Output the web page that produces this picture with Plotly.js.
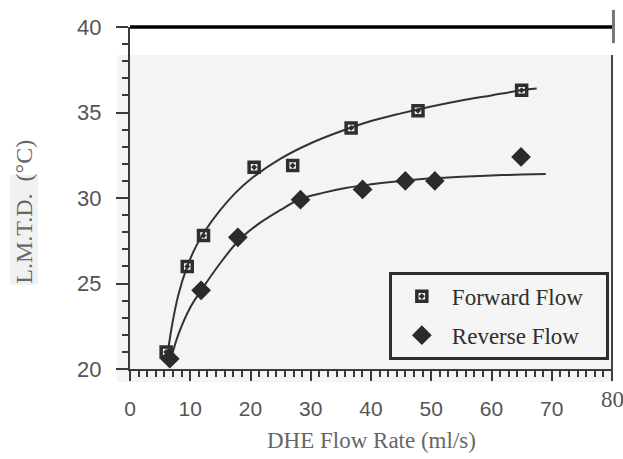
<!DOCTYPE html>
<html>
<head>
<meta charset="utf-8">
<script src="https://cdn.plot.ly/plotly-3.0.1.min.js"></script>
<style>
  html, body { margin: 0; padding: 0; background: #fff; }
  #chart { width: 623px; height: 459px; }
</style>
</head>
<body>
<div id="chart"></div>
<script>
// Measured points: DHE flow rate (ml/s) vs L.M.T.D. (°C)
const forwardX = [6, 9.5, 12.2, 20.6, 27, 36.7, 47.8, 65];
const forwardY = [21.0, 26.0, 27.8, 31.8, 31.9, 34.1, 35.1, 36.3];
const reverseX = [6.6, 11.8, 17.9, 28.3, 38.6, 45.7, 50.6, 64.9];
const reverseY = [20.6, 24.6, 27.7, 29.9, 30.5, 31.0, 31.0, 32.4];

// Fitted trend curves through each series
const forwardFitX = [6.2, 7, 8, 9.5, 11, 12.5, 15, 17.5, 20, 25, 30, 35, 40, 45, 50, 55, 60, 65, 67.5];
const forwardFitY = [20.8, 22.6, 24.3, 26.0, 27.2, 28.1, 29.3, 30.3, 31.1, 32.3, 33.2, 33.9, 34.5, 34.95, 35.35, 35.7, 36.0, 36.3, 36.4];
const reverseFitX = [6.8, 8, 10, 12, 15, 18, 21, 25, 28, 32, 36, 40, 45, 50, 55, 60, 65, 69];
const reverseFitY = [20.6, 22.0, 23.6, 24.7, 26.2, 27.5, 28.4, 29.3, 29.9, 30.3, 30.6, 30.8, 31.0, 31.15, 31.25, 31.32, 31.37, 31.4];

const xTickVals = [0, 10, 20, 30, 40, 50, 60, 70, 80];
const xTickText = ['0', '10', '20', '30', '40', '50', '60', '70', ''];
const yTickVals = [20, 25, 30, 35, 40];

const ink = '#333';
const serif = 'Liberation Serif, Times New Roman, serif';
const sans = 'Liberation Sans, Arial, sans-serif';
const pad = '\u00a0\u00a0\u00a0';

const traces = [
  { x: forwardFitX, y: forwardFitY, mode: 'lines', line: { color: ink, width: 2, shape: 'spline' },
    showlegend: false, hoverinfo: 'skip' },
  { x: reverseFitX, y: reverseFitY, mode: 'lines', line: { color: ink, width: 2, shape: 'spline' },
    showlegend: false, hoverinfo: 'skip' },
  { x: forwardX, y: forwardY, mode: 'markers', name: 'Forward Flow' + pad, legendgroup: 'f',
    marker: { symbol: 'square-open-dot', size: 10, color: '#2e2e2e', line: { width: 3.5, color: '#2e2e2e' } } },
  { x: reverseX, y: reverseY, mode: 'markers', name: 'Reverse Flow' + pad, legendgroup: 'r',
    marker: { symbol: 'diamond', size: 13, color: '#2b2b2b', line: { width: 2, color: '#2b2b2b' } } }
];

const layout = {
  width: 623, height: 459,
  margin: { l: 130, r: 11, t: 27, b: 90 },
  paper_bgcolor: '#fff',
  plot_bgcolor: 'rgba(0,0,0,0)',
  showlegend: true,
  legend: {
    x: 0.537, y: 0.284, xanchor: 'left', yanchor: 'top',
    bgcolor: '#f5f5f5', bordercolor: '#2e2e2e', borderwidth: 3,
    font: { family: serif, size: 23, color: '#2e2e2e' },
    itemwidth: 50,
    traceorder: 'grouped', tracegroupgap: 6
  },
  xaxis: {
    range: [0, 80], tickmode: 'array', tickvals: xTickVals, ticktext: xTickText,
    showgrid: false, zeroline: false, showline: true, linecolor: '#3a3a3a', linewidth: 2,
    ticks: 'outside', ticklen: 10, tickwidth: 2, tickcolor: '#3a3a3a',
    minor: { dtick: 10 / 7, tick0: 0, ticks: 'outside', ticklen: 6, tickwidth: 2, tickcolor: '#3a3a3a', showgrid: false },
    tickfont: { family: sans, size: 21, color: '#555' },
    ticklabelstandoff: 10
  },
  yaxis: {
    range: [20, 40], tickmode: 'array', tickvals: yTickVals,
    showgrid: false, zeroline: false, showline: true, linecolor: '#3a3a3a', linewidth: 2,
    ticks: 'outside', ticklen: 12, tickwidth: 2, tickcolor: '#3a3a3a',
    minor: { dtick: 1, tick0: 20, ticks: 'outside', ticklen: 6, tickwidth: 2, tickcolor: '#3a3a3a', showgrid: false },
    tickfont: { family: sans, size: 22, color: '#555' },
    ticklabelstandoff: 10
  },
  shapes: [
    // light panel behind the plot
    { type: 'rect', xref: 'paper', yref: 'paper', x0: -0.027, x1: 1.0, y0: -0.038, y1: 0.918,
      fillcolor: '#f4f4f4', line: { width: 0 }, layer: 'below' },
    // light patch behind the axis label
    { type: 'rect', xref: 'paper', yref: 'paper', x0: -0.249, x1: -0.191, y0: 0.246, y1: 0.567,
      fillcolor: '#f1f1f1', line: { width: 0 }, layer: 'below' },
    // heavy top border
    { type: 'line', xref: 'paper', yref: 'paper', x0: 0, x1: 1.0, y0: 1, y1: 1,
      line: { color: '#000', width: 3.5 } },
    // short grey end mark at top right
    { type: 'line', xref: 'paper', yref: 'paper', x0: 1.003, x1: 1.003, y0: 0.953, y1: 1.05,
      line: { color: '#777', width: 3 } },
    // right border
    { type: 'line', xref: 'paper', yref: 'paper', x0: 1.0, x1: 1.0, y0: -0.025, y1: 0.918,
      line: { color: '#444', width: 2 } }
  ],
  annotations: [
    { text: '80', xref: 'x', yref: 'paper', x: 80, y: -0.09, showarrow: false,
      xanchor: 'center', yanchor: 'middle', font: { family: serif, size: 23, color: '#555' } },
    { text: 'DHE Flow Rate (ml/s)', xref: 'paper', yref: 'paper', x: 0.5, y: -0.208, showarrow: false,
      xanchor: 'center', yanchor: 'middle', font: { family: serif, size: 23, color: '#666' } },
    { text: 'L.M.T.D.  (°C)', xref: 'paper', yref: 'paper', x: -0.22, y: 0.46, showarrow: false,
      textangle: -90, xanchor: 'center', yanchor: 'middle', font: { family: serif, size: 24, color: '#666' } }
  ]
};

Plotly.newPlot('chart', traces, layout, { displayModeBar: false, staticPlot: true });
</script>
</body>
</html>
